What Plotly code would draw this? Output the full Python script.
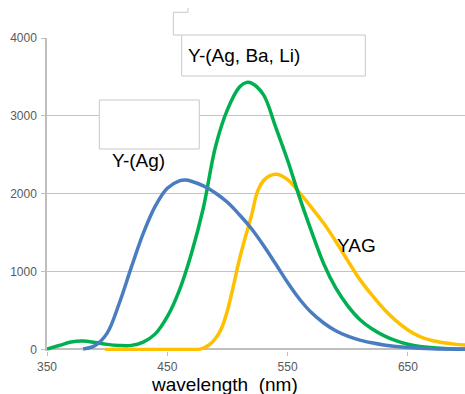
import plotly.graph_objects as go

# ---------------- data ----------------
green_wl = [350, 360, 370, 380, 390, 400, 410, 420, 430, 440, 450, 460, 470, 480, 490, 500, 510, 516, 520, 530, 540, 550, 560, 570, 580, 590, 600, 610, 620, 630, 640, 650, 660, 680, 698]
green_val = [5, 50, 95, 108, 88, 65, 52, 52, 95, 200, 421, 760, 1230, 1820, 2600, 3080, 3370, 3430, 3420, 3270, 2860, 2430, 1950, 1510, 1100, 790, 560, 385, 265, 178, 112, 66, 38, 12, 5]

blue_wl = [380, 390, 400, 410, 420, 430, 440, 450, 460, 465, 470, 480, 490, 500, 510, 520, 530, 540, 550, 560, 570, 580, 590, 600, 610, 620, 630, 640, 650, 670, 698]
blue_val = [5, 50, 210, 590, 1050, 1490, 1840, 2070, 2165, 2175, 2160, 2100, 2010, 1890, 1730, 1550, 1335, 1100, 860, 645, 470, 340, 240, 170, 120, 85, 58, 38, 24, 8, 2]

yag_wl = [398, 430, 470, 478, 485, 490, 495, 500, 505, 510, 515, 520, 525, 530, 535, 541, 550, 560, 570, 580, 590, 600, 610, 620, 630, 640, 650, 660, 670, 680, 690, 698]
yag_val = [0, 0, 0, 8, 60, 140, 270, 500, 820, 1160, 1450, 1720, 2030, 2170, 2230, 2250, 2180, 2010, 1820, 1620, 1390, 1140, 900, 700, 520, 370, 250, 165, 115, 85, 65, 55]

series_names = ["YAG", "Y-(Ag, Ba, Li)", "Y-(Ag)"]
x_ticks = [350, 450, 550, 650]
y_ticks = [0, 1000, 2000, 3000, 4000]
x_title = "wavelength\u00a0 (nm)"

# ---------------- layout helpers ----------------
W, H = 465, 394
ML, MR, MT, MB = 47, 0, 38, 43
PW, PH = W - ML - MR, H - MT - MB


def px(x):
    return (x - ML) / PW


def py(y):
    return (H - MB - y) / PH


FONT = "Arial, Liberation Sans, sans-serif"

fig = go.Figure()
fig.add_trace(go.Scatter(x=yag_wl, y=yag_val, name=series_names[0], mode="lines",
                         line=dict(color="#FFC000", width=3.5, shape="spline", smoothing=1.0)))
fig.add_trace(go.Scatter(x=green_wl, y=green_val, name=series_names[1], mode="lines",
                         line=dict(color="#00B050", width=3.5, shape="spline", smoothing=1.0)))
fig.add_trace(go.Scatter(x=blue_wl, y=blue_val, name=series_names[2], mode="lines",
                         line=dict(color="#4A7DBF", width=3.5, shape="spline", smoothing=1.0)))

shapes = [
    # partially hidden box at top
    dict(type="path", xref="paper", yref="paper",
         path=f"M {px(188)},{py(8)} L {px(188)},{py(12.3)} L {px(173.3)},{py(12.3)} "
              f"L {px(173.3)},{py(35)} L {px(181.7)},{py(35)}",
         line=dict(color="#C8C8C8", width=1)),
    # label box for Y-(Ag, Ba, Li)
    dict(type="rect", xref="paper", yref="paper",
         x0=px(181.7), x1=px(365.3), y0=py(76), y1=py(35),
         fillcolor="white", line=dict(color="#C8C8C8", width=1)),
    # empty box above Y-(Ag)
    dict(type="rect", xref="paper", yref="paper",
         x0=px(99.3), x1=px(199.3), y0=py(149), y1=py(100),
         fillcolor="white", line=dict(color="#C8C8C8", width=1)),
]

annotations = [
    dict(text=series_names[1], x=px(243.7), y=py(55), xref="paper", yref="paper",
         showarrow=False, font=dict(size=19, color="black", family=FONT), xanchor="center", yanchor="middle"),
    dict(text=series_names[2], x=px(138), y=py(160), xref="paper", yref="paper",
         showarrow=False, font=dict(size=19, color="black", family=FONT), xanchor="center", yanchor="middle"),
    dict(text=series_names[0], x=px(356.7), y=py(245), xref="paper", yref="paper",
         showarrow=False, font=dict(size=19, color="black", family=FONT), xanchor="center", yanchor="middle"),
    dict(text=x_title, x=px(224), y=py(384), xref="paper", yref="paper",
         showarrow=False, font=dict(size=19, color="black", family=FONT), xanchor="center", yanchor="middle"),
]

fig.update_layout(
    width=W, height=H,
    margin=dict(l=ML, r=MR, t=MT, b=MB),
    paper_bgcolor="white", plot_bgcolor="white",
    showlegend=False,
    hovermode=False,
    shapes=shapes,
    annotations=annotations,
    font=dict(family=FONT, size=12, color="#595959"),
    xaxis=dict(range=[350, 350 + PW / 1.203], tickvals=x_ticks, ticktext=[str(v) for v in x_ticks],
               showgrid=False, showline=False, zeroline=False,
               ticks="outside", ticklen=4, tickcolor="#BFBFBF", tickwidth=1,
               tickfont=dict(size=12, color="#595959", family=FONT), ticklabelstandoff=1),
    yaxis=dict(range=[-20, 4000], tickvals=y_ticks, ticktext=[str(v) for v in y_ticks],
               showgrid=True, gridcolor="#C4C4C4", gridwidth=1,
               showline=True, linecolor="#BFBFBF", linewidth=1.5,
               zeroline=True, zerolinecolor="#BFBFBF", zerolinewidth=1.5,
               ticks="outside", ticklen=4, tickcolor="#BFBFBF", tickwidth=1,
               tickfont=dict(size=12, color="#595959", family=FONT), ticklabelstandoff=2),
)

fig.write_html("out.html",
               config={"displayModeBar": False},
               post_script="document.body.style.margin='0';document.body.style.overflow='hidden';")
